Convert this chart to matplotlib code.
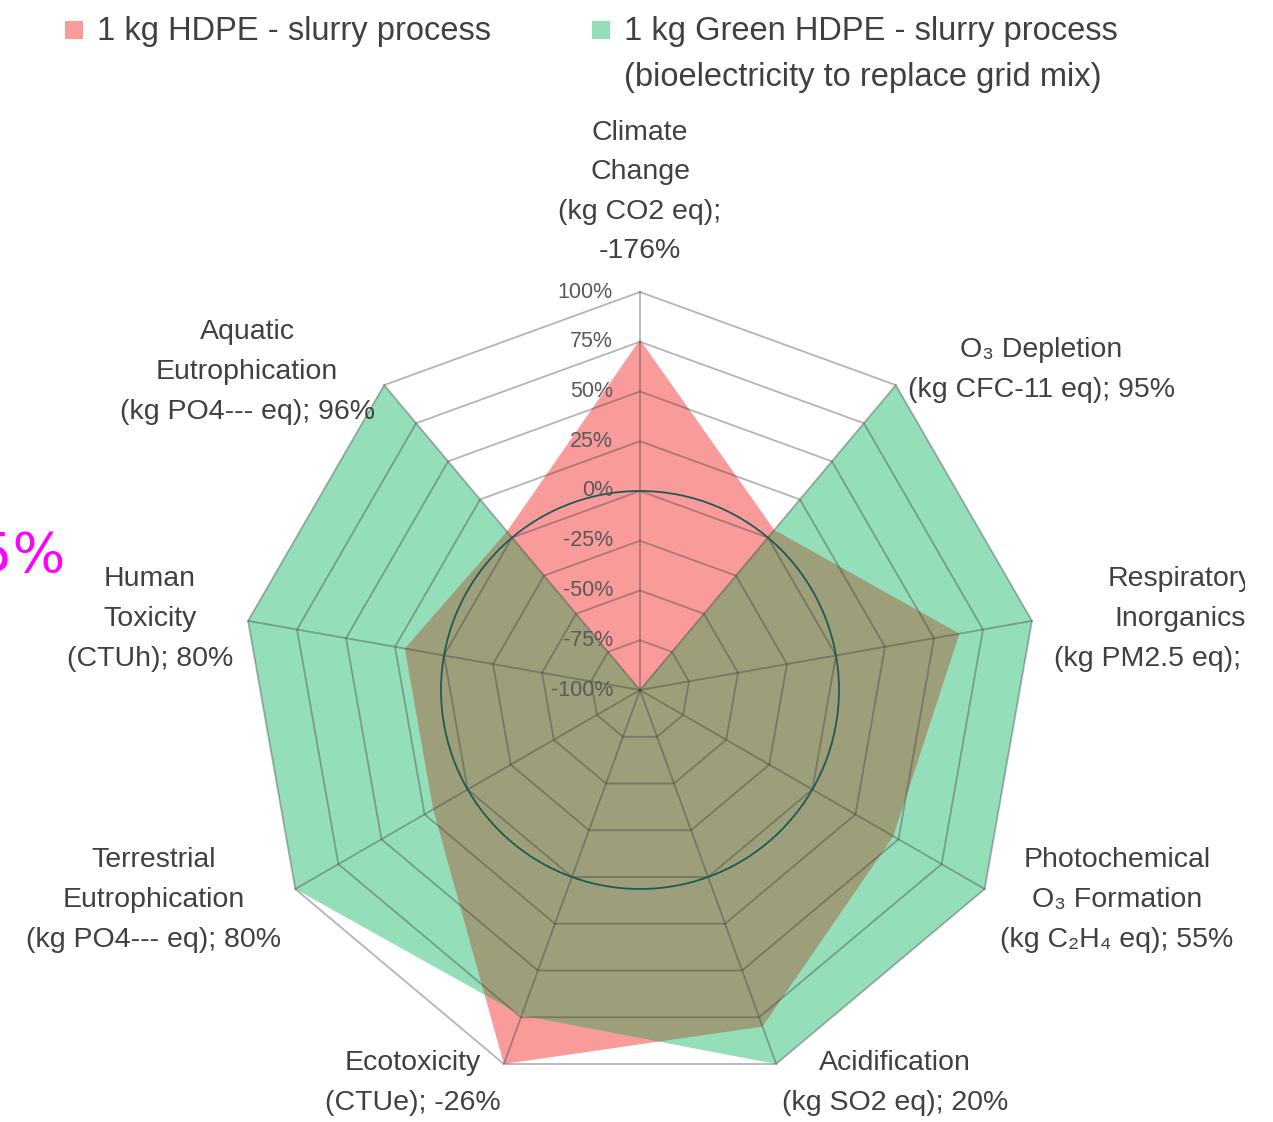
import numpy as np
import matplotlib
matplotlib.use('Agg')
import matplotlib.pyplot as plt
from matplotlib.patches import Polygon, Circle, Rectangle

plt.rcParams['font.family'] = ['Liberation Sans', 'DejaVu Sans']

# 数据
categories = ['Climate\nChange\n(kg CO2 eq);\n-176%',
              'O\u2083 Depletion\n(kg CFC-11 eq); 95%',
              'Respiratory\nInorganics\n(kg PM2.5 eq); 37%',
              'Photochemical\nO\u2083 Formation\n(kg C\u2082H\u2084 eq); 55%',
              'Acidification\n(kg SO2 eq); 20%',
              'Ecotoxicity\n(CTUe); -26%',
              'Terrestrial\nEutrophication\n(kg PO4--- eq); 80%',
              'Human\nToxicity\n(CTUh); 80%',
              'Aquatic\nEutrophication\n(kg PO4--- eq); 96%']
hdpe = [76, 5, 63, 47, 80, 100, 20, 20, 4]
green_hdpe = [-100, 100, 100, 100, 100, 74, 100, 100, 100]
series_names = ['1 kg HDPE - slurry process',
                '1 kg Green HDPE - slurry process\n(bioelectricity to replace grid mix)']
ticks = [-100, -75, -50, -25, 0, 25, 50, 75, 100]
tick_labels = ['-100%', '-75%', '-50%', '-25%', '0%', '25%', '50%', '75%', '100%']

# 像素布局
W, H = 1273, 1122
CX, CY, R = 640, 690, 398

red_c = '#F99B9B'
green_c = '#94DEBA'
olive_c = '#9D9E7A'
text_c = '#404040'


def px(x, y):
    return (x - CX) / R, (CY - y) / R


def to_xy(values):
    n = len(values)
    ang = np.deg2rad(90 - 360.0 / n * np.arange(n))
    r = (np.asarray(values) + 100) / 200.0
    return np.column_stack([r * np.cos(ang), r * np.sin(ang)])


fig = plt.figure(figsize=(W / 100, H / 100), dpi=100)
ax = fig.add_axes([0, 0, 1, 1])
ax.set_xlim(-CX / R, (W - CX) / R)
ax.set_ylim(-(H - CY) / R, CY / R)
ax.axis('off')

# 填充
red_poly = Polygon(to_xy(hdpe), closed=True, facecolor=red_c, edgecolor='none', zorder=1)
ax.add_patch(red_poly)
ax.add_patch(Polygon(to_xy(green_hdpe), closed=True, facecolor=green_c, edgecolor='none', zorder=2))
overlap = Polygon(to_xy(green_hdpe), closed=True, facecolor=olive_c, edgecolor='none', zorder=3)
ax.add_patch(overlap)
overlap.set_clip_path(red_poly)

# 网格
n = len(categories)
for t in ticks[1:]:
    ring = to_xy([t] * n)
    ring = np.vstack([ring, ring[:1]])
    ax.plot(ring[:, 0], ring[:, 1], color='#3a3a3a', alpha=0.38, lw=1.3, zorder=4)
outer = to_xy([100] * n)
for x, y in outer:
    ax.plot([0, x], [0, y], color='#3a3a3a', alpha=0.38, lw=1.3, zorder=4)

ax.add_patch(Circle((0, 0), 0.5, fill=False, edgecolor='#1E5A55', lw=1.3, zorder=5))

# 刻度标签
for t, lab in zip(ticks, tick_labels):
    ax.text(-0.068, (t + 100) / 200.0, lab, ha='right', va='center',
            fontsize=15.5, color='#595959', zorder=6)

# 类别标签
label_pos = [(640, 192), (1041, 370), (1180, 619), (1117, 900), (895, 1083),
             (413, 1083), (154, 900), (150, 619), (247, 372)]
for lab, (lx, ly) in zip(categories, label_pos):
    x, y = px(lx, ly)
    ax.text(x, y, lab, ha='center', va='center', fontsize=20.5,
            color=text_c, linespacing=1.68)

# 右侧裁切
fig.patches.append(Rectangle((1245 / W, 0), 1, 1, transform=fig.transFigure,
                             facecolor='white', edgecolor='none', zorder=10))

# 图例
leg_pos = [(65, 30), (592, 30)]
for name, col, (lx, ly) in zip(series_names, [red_c, green_c], leg_pos):
    fig.patches.append(Rectangle((lx / W, 1 - (ly + 9) / H), 18 / W, 18 / H,
                                 transform=fig.transFigure, facecolor=col,
                                 edgecolor='none'))
    fig.text((lx + 32) / W, 1 - (ly - 14) / H, name, ha='left', va='top',
             fontsize=23.5, color=text_c, linespacing=1.62)

fig.text(66 / W, 1 - 557 / H, '95%', ha='right', va='center', fontsize=40,
         color='#FF00FF', family='DejaVu Sans')

fig.savefig('out.png', dpi=100)
